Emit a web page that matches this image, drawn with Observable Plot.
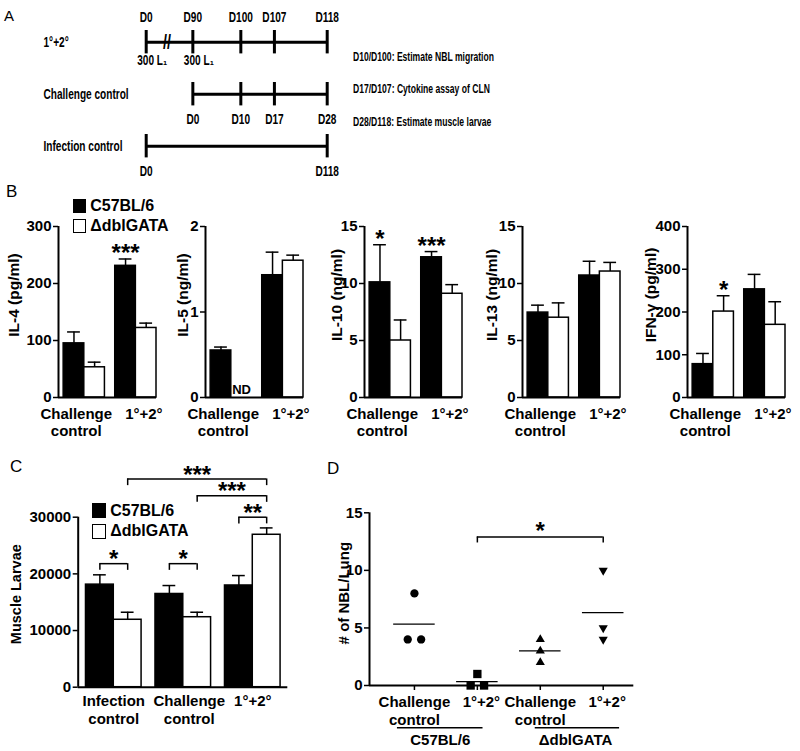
<!DOCTYPE html>
<html>
<head>
<meta charset="utf-8">
<script src="https://cdn.jsdelivr.net/npm/d3@7"></script>
<script src="https://cdn.jsdelivr.net/npm/@observablehq/plot@0.6"></script>
<style>
  body { margin: 0; background: #fff; }
  #fig { position: relative; width: 800px; height: 751px; overflow: hidden; background: #fff;
         font-family: "Liberation Sans", Arial, Helvetica, sans-serif; color: #000; }
  .letter { position: absolute; font-size: 17px; line-height: 17px; font-weight: normal; }
  .note { position: absolute; font-size: 13px; line-height: 16px; font-weight: bold; white-space: nowrap;
          transform: scaleX(0.66); transform-origin: 0 50%; }
  .legrow { position: absolute; display: flex; align-items: center; font-weight: bold; white-space: nowrap; }
  .sw { box-sizing: border-box; border: 1.5px solid #000; margin-right: 4px; }
</style>
</head>
<body>
<div id="fig"></div>
<script>
// ================= DATA =================
const strains = ["C57BL/6", "ΔdblGATA"];

// Panel A – timeline
const timelineRows = ["1°+2°", "Challenge control", "Infection control"];
const timelineSpans = [[0, 118], [90, 118], [0, 118]];
const timelineTickDays = [[0, 90, 100, 107, 118], [90, 100, 107, 118], [0, 118]];
const timelineTickLabels = [["D0", "D90", "D100", "D107", "D118"], ["D0", "D10", "D17", "D28"], ["D0", "D118"]];
const timelineLabelSide = ["above", "below", "below"];
const inoculationDays = [0, 90];
const inoculationLabels = ["300 L₁", "300 L₁"];
const breakDay = 40;
const timelineNotes = ["D10/D100: Estimate NBL migration", "D17/D107: Cytokine assay of CLN", "D28/D118: Estimate muscle larvae"];

// Panel B – cytokines; order: [Challenge C57BL/6, Challenge ΔdblGATA, 1°+2° C57BL/6, 1°+2° ΔdblGATA]
const cytoGroups = ["Challenge\ncontrol", "1°+2°"];
const cytoLabels = ["IL-4 (pg/ml)", "IL-5 (ng/ml)", "IL-10 (ng/ml)", "IL-13 (ng/ml)", "IFN-γ (pg/ml)"];
const cytoTicks = [[0, 100, 200, 300], [0, 1, 2], [0, 5, 10, 15], [0, 5, 10, 15], [0, 100, 200, 300, 400]];
const il4Mean = [95, 53, 231, 122];
const il4Sem = [20, 9, 12, 8.5];
const il5Mean = [0.55, null, 1.43, 1.60];
const il5Sem = [0.04, null, 0.27, 0.065];
const il10Mean = [10.1, 5.0, 12.3, 9.1];
const il10Sem = [3.3, 1.8, 0.5, 0.8];
const il13Mean = [7.45, 7.0, 10.7, 11.05];
const il13Sem = [0.65, 1.3, 1.25, 0.8];
const ifnMean = [78, 201, 253, 170];
const ifnSem = [25, 37, 35, 54];
const starPanel = [0, 2, 2, 4];
const starBar = [2, 0, 2, 1];
const starText = ["***", "*", "***", "*"];

// Panel C – muscle larvae
const larvaeGroups = ["Infection\ncontrol", "Challenge\ncontrol", "1°+2°"];
const larvaeTicks = [0, 10000, 20000, 30000];
const larvaeMeanB6 = [18100, 16450, 17950];
const larvaeSemB6 = [1730, 1490, 1750];
const larvaeMeanDbl = [11900, 12350, 26900];
const larvaeSemDbl = [1330, 880, 1210];
const bracketFrom = [[0, 0], [1, 0], [2, 0], [1, 1], [0, 1]];
const bracketTo = [[0, 1], [1, 1], [2, 1], [2, 1], [2, 1]];
const bracketLevel = [21800, 21800, 30000, 33800, 36750];
const bracketText = ["*", "*", "**", "***", "***"];

// Panel D – NBL per lung
const nblGroups = ["Challenge\ncontrol", "1°+2°", "Challenge\ncontrol", "1°+2°"];
const nblValues = [[8, 4, 4], [1, 0, 0], [4, 3, 2], [10, 5, 4]];
const nblTicks = [0, 5, 10, 15];
const nblBracket = {from: 1, to: 3, level: 12.9, text: "*"};

// ================= HELPERS =================
const FONT = '"Liberation Sans", Arial, Helvetica, sans-serif';
const fig = document.getElementById("fig");
function place(node, left, top) {
  node.style.position = "absolute";
  node.style.left = left + "px";
  node.style.top = top + "px";
  fig.appendChild(node);
  return node;
}
function baseStyle(size) {
  return {background: "transparent", overflow: "visible", fontFamily: FONT, fontSize: size + "px", fontWeight: "bold", color: "black"};
}
function condense(root, factor) {
  root.querySelectorAll("text").forEach(t => {
    const len = t.getComputedTextLength();
    if (len > 0) {
      t.setAttribute("textLength", (len * factor).toFixed(2));
      t.setAttribute("lengthAdjust", "spacingAndGlyphs");
    }
  });
}
function letter(ch, left, top, size) {
  const d = document.createElement("div");
  d.className = "letter"; d.textContent = ch;
  d.style.fontSize = size + "px"; d.style.lineHeight = size + "px";
  place(d, left, top);
}
function legend(left, top, size, gap, fontSize) {
  strains.forEach((s, i) => {
    const row = document.createElement("div");
    row.className = "legrow";
    row.style.height = size + "px";
    row.style.fontSize = fontSize + "px";
    const sw = document.createElement("div");
    sw.className = "sw";
    sw.style.width = size + "px"; sw.style.height = size + "px";
    sw.style.background = i === 0 ? "#000" : "#fff";
    const tx = document.createElement("span");
    tx.textContent = s;
    row.appendChild(sw); row.appendChild(tx);
    place(row, left, top + i * gap);
  });
}
const plainFormat = d => String(d);

// generic grouped bar chart with top-only error bars
function barChart(o) {
  const present = o.bars.filter(d => d.mean != null);
  const missing = o.bars.filter(d => d.mean == null);
  const marks = [
    Plot.rect(present, {x1: "x1", x2: d => d.x1 + 1, y1: d => 0, y2: "mean",
      fill: d => d.s === 0 ? "black" : "white", stroke: "black", strokeWidth: 1.5}),
    Plot.ruleX(present, {x: d => d.x1 + 0.5, y1: "mean", y2: d => d.mean + d.sem, strokeWidth: 1.5}),
    Plot.ruleY(present, {y: d => d.mean + d.sem, x1: d => d.x1 + 0.5 - o.capHalf, x2: d => d.x1 + 0.5 + o.capHalf, strokeWidth: 1.5}),
    Plot.ruleY([0], {strokeWidth: 2}),
    Plot.ruleX([o.xDomain[0]], {y1: d => 0, y2: d => o.yMax, strokeWidth: 2}),
    Plot.axisY({ticks: o.ticks, tickSize: 5, tickPadding: 2, label: null, strokeWidth: 1.5, tickFormat: plainFormat}),
    Plot.text([o.label], {frameAnchor: "left", rotate: -90, textAnchor: "middle", lineAnchor: "middle",
      dx: o.labelDx, dy: o.labelDy, fontSize: o.labelSize}),
    ...o.groups.map((g, i) => Plot.text([g], {x: () => i * 2.5 + 1, y: () => 0, text: d => d,
      lineAnchor: "top", lineHeight: 1.18, dy: o.groupDy, dx: o.groupDx[i], fontSize: 15})),
    Plot.text(missing, {x: d => d.x1 + 0.5, y: () => 0, text: () => "ND", dy: -7.5, fontSize: 13}),
    Plot.text(o.stars || [], {x: d => d.bar.x1 + 0.5, y: d => d.bar.mean + d.bar.sem, text: "text",
      dy: o.starDy, fontSize: 24, lineAnchor: "middle"})
  ];
  if (o.brackets) {
    marks.push(
      Plot.ruleY(o.brackets, {y: "level", x1: "xa", x2: "xb", strokeWidth: 1.5}),
      Plot.ruleX(o.brackets, {x: "xa", y1: "level", y2: d => d.level - o.legLen, strokeWidth: 1.5}),
      Plot.ruleX(o.brackets, {x: "xb", y1: "level", y2: d => d.level - o.legLen, strokeWidth: 1.5}),
      Plot.text(o.brackets, {x: d => (d.xa + d.xb) / 2, y: "level", text: "text", dy: o.starDy, fontSize: 24, lineAnchor: "middle"})
    );
  }
  return Plot.plot({
    width: o.width, height: o.height,
    marginLeft: o.marginLeft, marginRight: o.marginRight, marginTop: o.marginTop, marginBottom: o.marginBottom,
    x: {domain: o.xDomain, axis: null},
    y: {domain: [0, o.yMax], axis: null},
    style: baseStyle(15),
    marks
  });
}

// ================= PANEL A =================
// the D0–D90 stretch is drawn with an axis break (compressed to ~10 days of width)
const breakRatio = 0.108;
const tPos = day => day >= 90 ? day : 90 - (90 - day) * breakRatio;
const aTicks = timelineRows.flatMap((r, i) => timelineTickDays[i].map((day, j) =>
  ({row: i, day, label: timelineTickLabels[i][j], side: timelineLabelSide[i]})));
const plotA = Plot.plot({
  width: 800, height: 185, margin: 0,
  x: {domain: [tPos(0), 118], range: [145.7, 326.7], axis: null},
  y: {domain: [0, 2], range: [41.7, 145.7], axis: null},
  style: baseStyle(14),
  marks: [
    Plot.ruleY(timelineRows, {y: (d, i) => i, x1: (d, i) => tPos(timelineSpans[i][0]), x2: (d, i) => tPos(timelineSpans[i][1]), strokeWidth: 3}),
    Plot.ruleX(aTicks, {x: d => tPos(d.day), y1: d => d.row - 0.225, y2: d => d.row + 0.225, strokeWidth: 3}),
    Plot.text(aTicks.filter(d => d.side === "above"), {x: d => tPos(d.day), y: "row", text: "label", dy: -25}),
    Plot.text(aTicks.filter(d => d.side === "below"), {x: d => tPos(d.day), y: "row", text: "label", dy: 25}),
    Plot.text(inoculationDays, {x: d => tPos(d), y: () => 0, text: (d, i) => inoculationLabels[i], dy: 18.5, dx: 6}),
    Plot.text(timelineRows, {y: (d, i) => i, text: d => d, frameAnchor: "left", textAnchor: "start", dx: 43}),
    Plot.text([breakDay], {x: d => tPos(d), y: () => 0, text: () => "//", fontSize: 20, lineAnchor: "middle"})
  ]
});
place(plotA, 0, 0);
condense(plotA, 0.72);
timelineNotes.forEach((t, i) => {
  const d = document.createElement("div");
  d.className = "note"; d.textContent = t;
  place(d, 353.3, 48.7 + i * 32.5);
});
letter("A", 4, 8, 15);

// ================= PANEL B =================
const cytoMeans = [il4Mean, il5Mean, il10Mean, il13Mean, ifnMean];
const cytoSems = [il4Sem, il5Sem, il10Sem, il13Sem, ifnSem];
const bAxisX = [58, 205, 364, 522.3, 686.7];
const bLabelDx = [-44, -22, -27.5, -30, -36.5];
cytoLabels.forEach((label, k) => {
  const bars = [];
  cytoGroups.forEach((g, gi) => strains.forEach((s, si) => {
    const i = gi * 2 + si;
    bars.push({g: gi, s: si, x1: gi * 2.5 + si, mean: cytoMeans[k][i], sem: cytoSems[k][i]});
  }));
  const stars = starPanel.map((p, j) => ({p, bar: bars[starBar[j]], text: starText[j]})).filter(d => d.p === k);
  const ticks = cytoTicks[k];
  const chart = barChart({
    bars, groups: cytoGroups, xDomain: [-0.25, 4.5], yMax: ticks[ticks.length - 1], ticks, label,
    labelDx: bLabelDx[k], labelDy: -17, labelSize: 15.5,
    width: 160, height: 260, marginLeft: 58, marginRight: 4, marginTop: 46, marginBottom: 43,
    capHalf: 0.31, groupDx: [-8, 8], groupDy: 8.5, stars, starDy: -5.5
  });
  place(chart, bAxisX[k] - 58, 180);
});
legend(72.7, 199, 13.5, 20.3, 16);
letter("B", 6, 183, 17);

// ================= PANEL C =================
const cBars = [];
larvaeGroups.forEach((g, gi) => strains.forEach((s, si) => {
  cBars.push({g: gi, s: si, x1: gi * 2.5 + si,
    mean: si === 0 ? larvaeMeanB6[gi] : larvaeMeanDbl[gi],
    sem: si === 0 ? larvaeSemB6[gi] : larvaeSemDbl[gi]});
}));
const barCenter = ([g, s]) => g * 2.5 + s + 0.5;
const cBrackets = bracketFrom.map((f, i) => ({xa: barCenter(f), xb: barCenter(bracketTo[i]), level: bracketLevel[i], text: bracketText[i]}));
const plotC = barChart({
  bars: cBars, groups: larvaeGroups, xDomain: [-0.28, 7.26], yMax: 30000, ticks: larvaeTicks, label: "Muscle Larvae",
  labelDx: -62, labelDy: -8, labelSize: 14.5,
  width: 297, height: 311, marginLeft: 77.7, marginRight: 9.7, marginTop: 76.7, marginBottom: 64.3,
  capHalf: 0.23, groupDx: [0, 6, 0], groupDy: 6.5, brackets: cBrackets, legLen: 1180, starDy: -4
});
place(plotC, 0, 440);
legend(91.7, 503.3, 14.5, 20.7, 16);
letter("C", 10, 457.5, 17);

// ================= PANEL D =================
const dPoints = nblGroups.flatMap((g, gi) => {
  const vals = nblValues[gi];
  return vals.map((v, j) => {
    const dupIdx = vals.slice(0, j).filter(u => u === v).length;
    const dupCount = vals.filter(u => u === v).length;
    return {g: gi, v, off: (dupIdx - (dupCount - 1) / 2) * 0.213};
  });
});
const dMeans = nblValues.map((vals, gi) => ({g: gi, m: d3.mean(vals)}));
const triangleDown = {
  draw(context, size) {
    const y = -Math.sqrt(size / (Math.sqrt(3) * 3));
    context.moveTo(0, -y * 2);
    context.lineTo(-Math.sqrt(3) * y, y);
    context.lineTo(Math.sqrt(3) * y, y);
    context.closePath();
  }
};
const dSymbols = ["circle", "square", "triangle", triangleDown];
const dRadius = [4.15, 4.7, 3.4, 3.4];
// strain underline extents (relative to the strain's first group position)
const underStart = [-0.27, -0.08];
const underEnd = [1.09, 1.26];
const strainLabelOffset = [0.41, 0.56];
const plotD = Plot.plot({
  width: 330, height: 311, marginLeft: 49, marginRight: 16.7, marginTop: 72.3, marginBottom: 66,
  x: {domain: [-0.714, 3.486], axis: null},
  y: {domain: [0, 15], axis: null},
  style: baseStyle(15),
  marks: [
    Plot.ruleY([0], {strokeWidth: 2}),
    Plot.ruleX([-0.714], {y1: () => 0, y2: () => 15, strokeWidth: 2}),
    Plot.axisY({ticks: nblTicks, tickSize: 5, tickPadding: 2, label: null, strokeWidth: 1.5, tickFormat: plainFormat}),
    Plot.axisX({ticks: [0, 1, 2, 3], tickSize: 5, tickFormat: () => "", label: null, strokeWidth: 1.5}),
    ...nblGroups.map((g, gi) => Plot.dot(dPoints.filter(d => d.g === gi),
      {x: d => d.g + d.off, y: "v", symbol: dSymbols[gi], r: dRadius[gi], fill: "black"})),
    Plot.ruleY(dMeans, {y: "m", x1: d => d.g - 0.33, x2: d => d.g + 0.33, strokeWidth: 1.2}),
    ...nblGroups.map((g, gi) => Plot.text([g], {x: () => gi, y: () => 0, text: d => d,
      lineAnchor: "top", lineHeight: 1.22, dy: 8.5, dx: gi % 2 ? 4 : 0, fontSize: 15})),
    Plot.ruleY(strains, {y: () => 0, x1: (d, i) => 2 * i + underStart[i], x2: (d, i) => 2 * i + underEnd[i], dy: 42.3, strokeWidth: 1.5}),
    Plot.text(strains, {x: (d, i) => 2 * i + strainLabelOffset[i], y: () => 0, text: d => d, dy: 55, lineAnchor: "middle", fontSize: 15}),
    Plot.ruleY([nblBracket], {y: "level", x1: "from", x2: "to", strokeWidth: 1.5}),
    Plot.ruleX([nblBracket], {x: "from", y1: "level", y2: d => d.level - 0.52, strokeWidth: 1.5}),
    Plot.ruleX([nblBracket], {x: "to", y1: "level", y2: d => d.level - 0.52, strokeWidth: 1.5}),
    Plot.text([nblBracket], {x: d => (d.from + d.to) / 2, y: "level", text: "text", dy: -5.5, fontSize: 24, lineAnchor: "middle"}),
    Plot.text(["# of NBL/Lung"], {frameAnchor: "left", rotate: -90, textAnchor: "middle", lineAnchor: "middle", dx: -25.7, dy: -6, fontSize: 15})
  ]
});
place(plotD, 320, 440);
letter("D", 327, 459.5, 17);
</script>
</body>
</html>
